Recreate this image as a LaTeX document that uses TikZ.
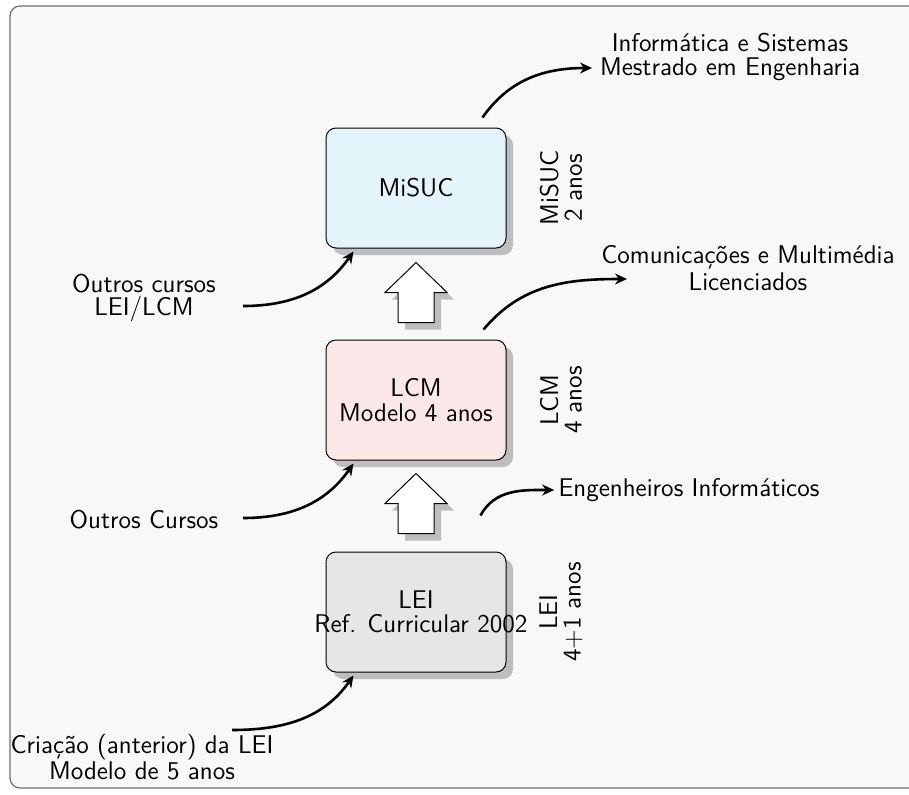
\documentclass[tikz,border=0pt]{standalone}
\usepackage{fontspec}
\usetikzlibrary{arrows.meta,shadows}
\definecolor{bgc}{RGB}{248,248,248}
\definecolor{framec}{RGB}{110,110,110}
\definecolor{misucc}{RGB}{227,244,251}
\definecolor{lcmc}{RGB}{253,232,233}
\definecolor{leic}{RGB}{230,230,230}
\definecolor{shadowc}{RGB}{190,190,190}
\begin{document}
\begin{tikzpicture}[x=0.5pt,y=-0.5pt,
  every node/.style={font=\sffamily\fontsize{12.8}{11.8}\selectfont},
  frame/.style={draw=framec,line width=0.6pt,fill=bgc,rounded corners=5pt},
  box/.style={draw=black,line width=0.5pt,rounded corners=5pt,
    minimum width=90pt,minimum height=60pt,align=center,inner sep=0pt,
    font=\sffamily\fontsize{12.8}{12.2}\selectfont,
    drop shadow={shadow xshift=3.5pt,shadow yshift=-3.5pt,fill=shadowc,opacity=1}},
  lbl/.style={align=center,inner sep=2pt},
  dur/.style={align=center,rotate=90,inner sep=0pt},
  flow/.style={-{Stealth[length=6pt,width=5.5pt]},line width=1.3pt},
  upar/.pic={
    \fill[shadowc] (7,7) -- (38,37) -- (25,37) -- (25,67) -- (-11,67) -- (-11,37) -- (-24,37) -- cycle;
    \draw[fill=white,line width=0.5pt] (0,0) -- (31,30) -- (18,30) -- (18,60) -- (-18,60) -- (-18,30) -- (-31,30) -- cycle;
  }]
\useasboundingbox (0,0) rectangle (909,794);
\draw[frame] (10,6) rectangle (925,788);

% boxes
\node[box,fill=misucc] (misuc) at (416,188) {MiSUC};
\node[box,fill=lcmc] (lcm) at (416,400) {LCM\\Modelo 4 anos};
\node[box,fill=leic] (lei) at (416,612) {LEI\\\makebox[0pt]{\hspace*{5pt}Ref. Curricular 2002}};

% duration labels
\node[dur] (misucd) at (561,188) {MiSUC\\2 anos};
\node[dur] (lcmd) at (561,400) {LCM\\4 anos};
\node[dur] (leid) at (561,612) {LEI\\4+1 anos};

% up arrows
\pic at ([yshift=-7pt]misuc.south) {upar};
\pic at ([yshift=-6.5pt]lcm.south) {upar};

% input labels
\node[lbl] (oc1) at (144,298) {Outros cursos\\LEI/LCM};
\node[lbl] (oc2) at (144,520) {Outros Cursos};
\node[lbl] (cri) at (142,757) {Criação (anterior) da LEI\\Modelo de 5 anos};
\coordinate (in1) at (243,306);
\coordinate (in2) at (243,518);
\coordinate (in3) at (232,730);
\draw[flow] (in1) to[out=0,in=235] ([xshift=14pt,yshift=-1.5pt]misuc.south west);
\draw[flow] (in2) to[out=0,in=235] ([xshift=14pt,yshift=-1.5pt]lcm.south west);
\draw[flow] (in3) to[out=0,in=235] ([xshift=14pt,yshift=-1.5pt]lei.south west);

% output labels
\node[lbl] (info) at (730,57) {Informática e Sistemas\\Mestrado em Engenharia};
\node[lbl] (com) at (748,268) {Comunicações e Multimédia\\[1.5pt]Licenciados};
\node[lbl] (eng) at (689,490) {Engenheiros Informáticos};
\coordinate (out1) at (592,68);
\coordinate (out2) at (627,279);
\draw[flow] ([xshift=-12pt,yshift=5pt]misuc.north east) to[out=55,in=180] (out1);
\draw[flow] ([xshift=-11.5pt,yshift=5pt]lcm.north east) to[out=50,in=180] (out2);
\draw[flow] ([xshift=-13pt,yshift=18pt]lei.north east) to[out=62,in=180] (eng.west);
\end{tikzpicture}
\end{document}
